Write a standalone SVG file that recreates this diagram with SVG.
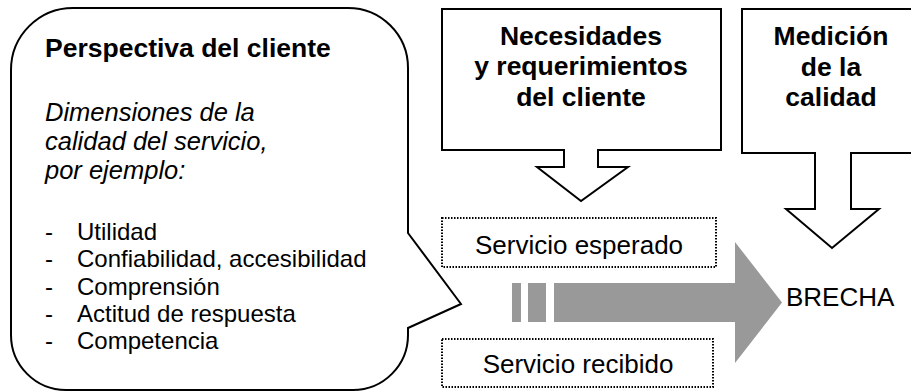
<svg xmlns="http://www.w3.org/2000/svg" width="911" height="392" viewBox="0 0 911 392">
<style>
.shape{fill:#fff;stroke:#000;stroke-width:2;stroke-linejoin:miter}
.dot{fill:#fff;stroke:#000;stroke-width:2;stroke-dasharray:1.5 1.5}
.t{font-family:"Liberation Sans",Arial,sans-serif;fill:#000}
.b{font-weight:bold;font-size:26.5px}
.i{font-style:italic;font-size:25.5px}
.l{font-size:24px}
.m{font-size:26px}
</style>
<rect width="911" height="392" fill="#fff"/>
<g id="callout">
<path class="shape" d="M73,8 H348 A60,60 0 0 1 408,68 V233 L461,304 L408,328 V335 A55,55 0 0 1 353,390 H66 A55,55 0 0 1 11,335 V70 A62,62 0 0 1 73,8 Z"/>
<text class="t b" x="45" y="57">Perspectiva del cliente</text>
<text class="t i" x="45" y="121">Dimensiones de la</text>
<text class="t i" x="45" y="150">calidad del servicio,</text>
<text class="t i" x="45" y="179">por ejemplo:</text>
<g class="t l">
<text x="45" y="240">-</text><text x="77" y="240">Utilidad</text>
<text x="45" y="267">-</text><text x="77" y="267">Confiabilidad, accesibilidad</text>
<text x="45" y="295">-</text><text x="77" y="295">Comprensión</text>
<text x="45" y="322">-</text><text x="77" y="322">Actitud de respuesta</text>
<text x="45" y="349">-</text><text x="77" y="349">Competencia</text>
</g>
</g>
<g id="necesidades">
<path class="shape" d="M442,9 H721 V150 H598 V167 H628 L581,201 L537,167 H564 V150 H442 Z"/>
<g class="t b" text-anchor="middle">
<text x="581" y="45">Necesidades</text>
<text x="581" y="75">y requerimientos</text>
<text x="581" y="106">del cliente</text>
</g>
</g>
<g id="medicion">
<path class="shape" d="M742,9 H920 V153 H851 V209 H879 L832,248 L786,209 H815 V153 H742 Z"/>
<g class="t b" text-anchor="middle">
<text x="831" y="45">Medición</text>
<text x="831" y="76">de la</text>
<text x="831" y="106">calidad</text>
</g>
</g>
<g id="connectors">
<g fill="#999">
<rect x="512" y="283" width="9" height="39"/>
<rect x="528" y="283" width="18" height="39"/>
<path d="M554,283 H735 V242 L782,302.5 L735,363 V322 H554 Z"/>
</g>
</g>
<g id="esperado">
<rect class="dot" x="442" y="218" width="274" height="49"/>
<text class="t m" x="579" y="254" text-anchor="middle">Servicio esperado</text>
</g>
<g id="recibido">
<rect class="dot" x="442" y="339" width="271" height="48"/>
<text class="t m" x="578" y="373" text-anchor="middle">Servicio recibido</text>
</g>
<g id="brecha">
<text class="t m" x="786" y="306">BRECHA</text>
</g>
</svg>
